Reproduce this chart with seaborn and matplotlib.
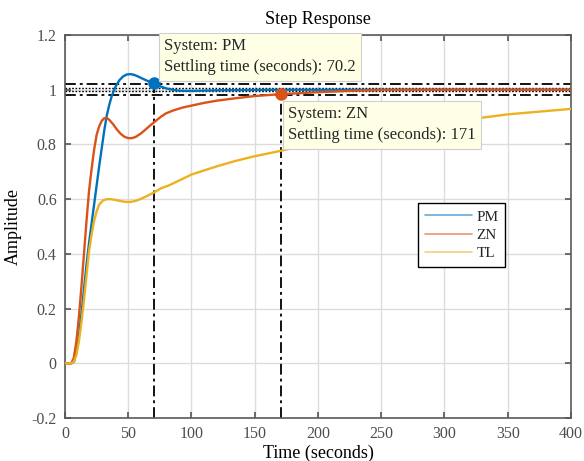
import matplotlib
matplotlib.use("Agg")
import matplotlib.pyplot as plt
import seaborn as sns
import pandas as pd

# ---- data ----
pm_t = [0, 5, 7, 9, 11, 13, 15, 17, 19, 21, 23, 25, 27, 29, 31, 33, 35, 37, 40, 43,
        46, 49, 52, 55, 58, 62, 66, 70.2, 75, 80, 85, 90, 95, 100, 110, 120, 140,
        170, 200, 300, 400]
pm_y = [0, 0, 0.005, 0.04, 0.10, 0.18, 0.27, 0.36, 0.44, 0.51, 0.58, 0.65, 0.72,
        0.785, 0.85, 0.905, 0.945, 0.978, 1.012, 1.035, 1.049, 1.056, 1.057, 1.054,
        1.048, 1.039, 1.031, 1.023, 1.013, 1.005, 1.000, 0.997, 0.996, 0.996, 0.997,
        0.998, 0.999, 1.0, 1.0, 1.0, 1.0]

zn_t = [0, 5, 7, 9, 11, 13, 15, 17, 19, 21, 23, 25, 27, 29, 31, 33, 35, 38, 41, 44,
        47, 50, 53, 56, 60, 64, 68, 72, 76, 80, 86, 93, 100, 110, 120, 135, 150,
        171, 200, 225, 250, 300, 350, 400]
zn_y = [0, 0, 0.02, 0.08, 0.17, 0.28, 0.40, 0.52, 0.63, 0.71, 0.78, 0.835, 0.866,
        0.886, 0.896, 0.897, 0.890, 0.874, 0.855, 0.839, 0.828, 0.823, 0.823, 0.828,
        0.840, 0.856, 0.872, 0.887, 0.902, 0.914, 0.925, 0.935, 0.942, 0.952, 0.960,
        0.969, 0.977, 0.984, 0.991, 0.996, 0.999, 1.0, 1.0, 1.0]

tl_t = [0, 5, 7, 9, 11, 13, 15, 17, 19, 21, 23, 25, 27, 30, 33, 36, 40, 44, 48, 52,
        56, 60, 65, 70.2, 76, 82, 92, 100, 110, 120, 135, 150, 170, 192, 220, 250,
        280, 300, 325, 350, 375, 400]
tl_y = [0, 0, 0.005, 0.03, 0.08, 0.15, 0.23, 0.32, 0.41, 0.47, 0.52, 0.555, 0.58,
        0.595, 0.600, 0.600, 0.597, 0.593, 0.590, 0.590, 0.594, 0.601, 0.612, 0.624,
        0.640, 0.650, 0.672, 0.690, 0.705, 0.720, 0.740, 0.757, 0.776, 0.800, 0.820,
        0.840, 0.860, 0.873, 0.895, 0.910, 0.920, 0.930]

systems = ["PM", "ZN", "TL"]
colors = ["#0072BD", "#D95319", "#EDB120"]

settle_times = [70.2, 171]
settle_values = [1.023, 0.984]
band_levels = [1.02, 0.98]
x_ticks = [0, 50, 100, 150, 200, 250, 300, 350, 400]
y_ticks = [-0.2, 0, 0.2, 0.4, 0.6, 0.8, 1.0, 1.2]
y_tick_labels = ["-0.2", "0", "0.2", "0.4", "0.6", "0.8", "1", "1.2"]

df = pd.concat([
    pd.DataFrame({"t": pm_t, "y": pm_y, "System": "PM"}),
    pd.DataFrame({"t": zn_t, "y": zn_y, "System": "ZN"}),
    pd.DataFrame({"t": tl_t, "y": tl_y, "System": "TL"}),
], ignore_index=True)

# ---- style ----
sns.set_theme(style="ticks")
plt.rcParams["font.family"] = ["Liberation Serif", "DejaVu Serif"]
plt.rcParams["mathtext.fontset"] = "stix"

fig = plt.figure(figsize=(5.84, 4.61), dpi=100)
ax = fig.add_axes([0.1113, 0.0933, 0.8664, 0.8307])

frame_col = "#5a5a5a"
grid_col = "#dcdcdc"

ax.set_xlim(0, 400)
ax.set_ylim(-0.2, 1.2)
ax.set_xticks(x_ticks)
ax.set_yticks(y_ticks)
ax.set_yticklabels(y_tick_labels)
ax.grid(True, color=grid_col, linewidth=1.0, zorder=0)
ax.set_axisbelow(True)

# settling-time marker lines
dashdot = (0, (6, 2.2, 1.6, 2.2))
for lvl in band_levels:
    ax.axhline(lvl, color="black", linestyle=dashdot, linewidth=1.3, zorder=2)
ax.axhline(1.007, color="black", linestyle=(0, (1.2, 1.2)), linewidth=1.0, zorder=2)
ax.axhline(0.997, color="black", linestyle=(0, (1.2, 1.2)), linewidth=1.0, zorder=2)
for st, sv in zip(settle_times, settle_values):
    ax.plot([st, st], [-0.2, sv], color="black", linestyle=dashdot,
            linewidth=1.3, zorder=2)

sns.lineplot(data=df, x="t", y="y", hue="System", hue_order=systems,
             palette=colors, linewidth=1.7, ax=ax, legend=False, sort=False,
             zorder=3)

for st, sv, c in zip(settle_times, settle_values, colors[:2]):
    ax.plot(st, sv, "o", color=c, markersize=8, zorder=5)

for sp in ax.spines.values():
    sp.set_color(frame_col)
    sp.set_linewidth(1.2)
ax.tick_params(direction="in", top=True, right=True, length=4,
               color=frame_col, labelcolor="#4d4d4d", labelsize=11.5, pad=6)

ax.set_xlabel("Time (seconds)", fontsize=13, color="black", labelpad=1.5)
ax.set_ylabel("Amplitude", fontsize=13, color="black", labelpad=7)
ax.set_title("Step Response", fontsize=13, color="black", pad=8)

# data tips
tip_kw = dict(fontsize=12, linespacing=1.42, va="top", ha="left",
              zorder=10, clip_on=False,
              bbox=dict(boxstyle="square,pad=0.33", fc="#FFFFE6", ec="#cfcfcf",
                        lw=0.8))
ax.text(78.5, 1.188, "System: PM\nSettling time (seconds): 70.2", **tip_kw)
ax.text(176.5, 0.94, "System: ZN\nSettling time (seconds): 171", **tip_kw)

# legend
from matplotlib.lines import Line2D
handles = [Line2D([0], [0], color=c, lw=1.2, alpha=0.6) for c in colors]
leg = ax.legend(handles, systems, loc="upper left",
                bbox_to_anchor=(0.697, 0.561), fontsize=11, frameon=True,
                fancybox=False, edgecolor="black", handlelength=3.1,
                handletextpad=0.3, borderpad=0.45, labelspacing=0.3,
                borderaxespad=0)
leg.get_frame().set_linewidth(1.0)
leg.get_frame().set_facecolor("white")
leg.get_frame().set_alpha(1)

fig.savefig("out.png", dpi=100)
